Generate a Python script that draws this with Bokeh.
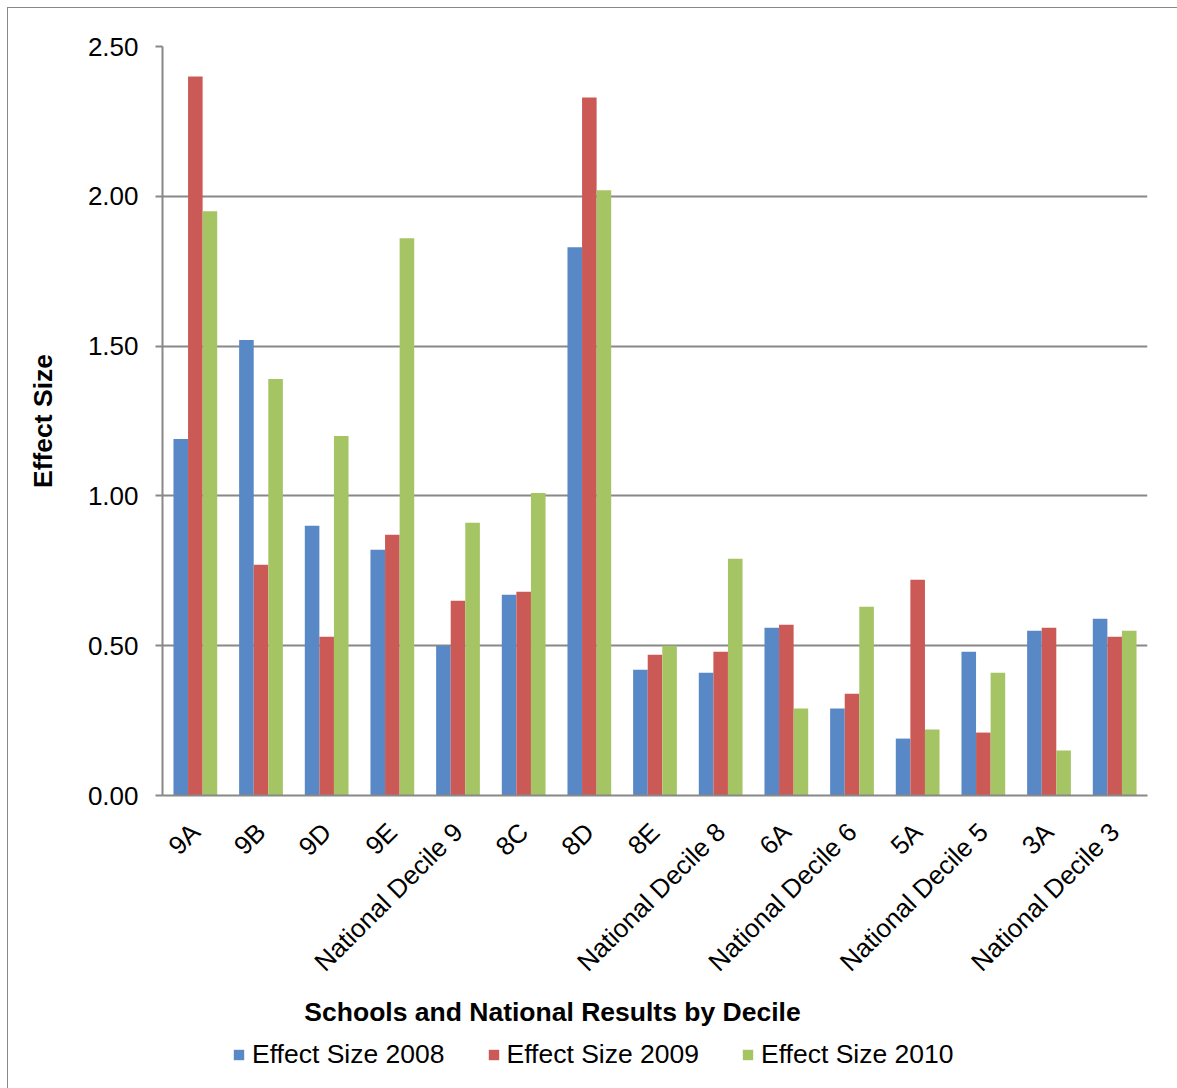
from math import pi

from bokeh.embed import file_html
from bokeh.layouts import column
from bokeh.models import (ColumnDataSource, FactorRange, FixedTicker, Label,
                          Legend, LegendItem, NumeralTickFormatter, Range1d)
from bokeh.plotting import figure
from bokeh.resources import INLINE
from bokeh.transform import dodge

# Schools and national decile groups
categories = ["9A", "9B", "9D", "9E", "National Decile 9", "8C", "8D", "8E",
              "National Decile 8", "6A", "National Decile 6", "5A",
              "National Decile 5", "3A", "National Decile 3"]

# Effect sizes per year
es2008 = [1.19, 1.52, 0.90, 0.82, 0.50, 0.67, 1.83, 0.42, 0.41, 0.56, 0.29, 0.19, 0.48, 0.55, 0.59]
es2009 = [2.40, 0.77, 0.53, 0.87, 0.65, 0.68, 2.33, 0.47, 0.48, 0.57, 0.34, 0.72, 0.21, 0.56, 0.53]
es2010 = [1.95, 1.39, 1.20, 1.86, 0.91, 1.01, 2.02, 0.50, 0.79, 0.29, 0.63, 0.22, 0.41, 0.15, 0.55]

y_ticks = [0.0, 0.5, 1.0, 1.5, 2.0, 2.5]
series_names = ["Effect Size 2008", "Effect Size 2009", "Effect Size 2010"]
x_title = "Schools and National Results by Decile"

FONT = "Liberation Sans"
GREY = "#888888"
colors = ["#5889C6", "#CB5A56", "#A5C464"]
fields = ["y2008", "y2009", "y2010"]
W = 1185      # chart box runs past the right edge of the page
bw = 0.222
offsets = [-bw, 0.0, bw]

source = ColumnDataSource(data=dict(cat=categories, y2008=es2008, y2009=es2009, y2010=es2010))
x_range = FactorRange(*categories)

# --- main chart -------------------------------------------------------------
p = figure(
    x_range=x_range,
    y_range=Range1d(0, 2.5),
    width=W, height=982,
    output_backend="svg", toolbar_location=None,
    min_border_left=154, min_border_right=W + 8 - 1147,
    min_border_top=38, min_border_bottom=192,
)
p.outline_line_color = None
p.background_fill_color = "white"
p.border_fill_color = "white"

for off, fld, col in zip(offsets, fields, colors):
    p.vbar(x=dodge("cat", off, range=x_range), top=fld, width=bw,
           source=source, fill_color=col, line_color=None)

# y axis
p.yaxis.ticker = FixedTicker(ticks=y_ticks)
p.yaxis.formatter = NumeralTickFormatter(format="0.00")
p.yaxis.axis_line_color = GREY
p.yaxis.axis_line_width = 2
p.yaxis.major_tick_line_color = GREY
p.yaxis.major_tick_line_width = 2
p.yaxis.major_tick_out = 7
p.yaxis.major_tick_in = 0
p.yaxis.minor_tick_line_color = None
p.yaxis.major_label_text_font = FONT
p.yaxis.major_label_text_font_size = "26px"
p.yaxis.major_label_text_color = "black"
p.yaxis.major_label_standoff = 17
p.yaxis.axis_label = "Effect Size"
p.yaxis.axis_label_text_font = FONT
p.yaxis.axis_label_text_font_size = "26.5px"
p.yaxis.axis_label_text_font_style = "bold"
p.yaxis.axis_label_text_color = "black"
p.yaxis.axis_label_standoff = 27

# x axis
p.xaxis.axis_line_color = GREY
p.xaxis.axis_line_width = 2
p.xaxis.major_tick_line_color = None
p.xaxis.minor_tick_line_color = None
p.xaxis.major_label_orientation = pi / 4
p.xaxis.major_label_text_font = FONT
p.xaxis.major_label_text_font_size = "26px"
p.xaxis.major_label_text_color = "black"
p.xaxis.major_label_standoff = 26

# grid
p.xgrid.grid_line_color = None
p.ygrid.ticker = FixedTicker(ticks=y_ticks)
p.ygrid.grid_line_color = GREY
p.ygrid.grid_line_width = 2

# --- strip below: x title and legend -----------------------------------------
# Same series on the shared category range; the y window lies well above the
# data so only the legend swatches show.
QH = 108
q = figure(width=W, height=QH, x_range=x_range, y_range=Range1d(10, 11),
           output_backend="svg", toolbar_location=None, min_border=0)
q.axis.visible = False
q.grid.visible = False
q.outline_line_color = None
q.border_fill_color = "white"
q.background_fill_color = "white"

q.add_layout(Label(x=390, y=QH - 21, x_units="screen", y_units="screen", text=x_title,
                   text_align="center", text_baseline="middle", text_font=FONT,
                   text_font_size="26.5px", text_font_style="bold", text_color="black"))

swatches = [q.vbar(x=dodge("cat", off, range=x_range), top=fld, width=bw,
                   source=source, fill_color=col, line_color=None)
            for off, fld, col in zip(offsets, fields, colors)]
legend = Legend(
    items=[LegendItem(label=n, renderers=[r]) for n, r in zip(series_names, swatches)],
    orientation="horizontal", location=(70, QH - 80),
    glyph_width=13, glyph_height=13, label_standoff=7, spacing=42,
    padding=0, margin=0, border_line_color=None, background_fill_alpha=0,
    label_text_font=FONT, label_text_font_size="26.5px", label_text_color="black",
)
q.add_layout(legend, "center")

layout = column(p, q, spacing=0,
                styles={"margin-left": "7px", "margin-top": "7px",
                        "border-left": "1px solid #888888",
                        "border-top": "1px solid #888888"})

open("out.html", "w").write(file_html(layout, INLINE))
